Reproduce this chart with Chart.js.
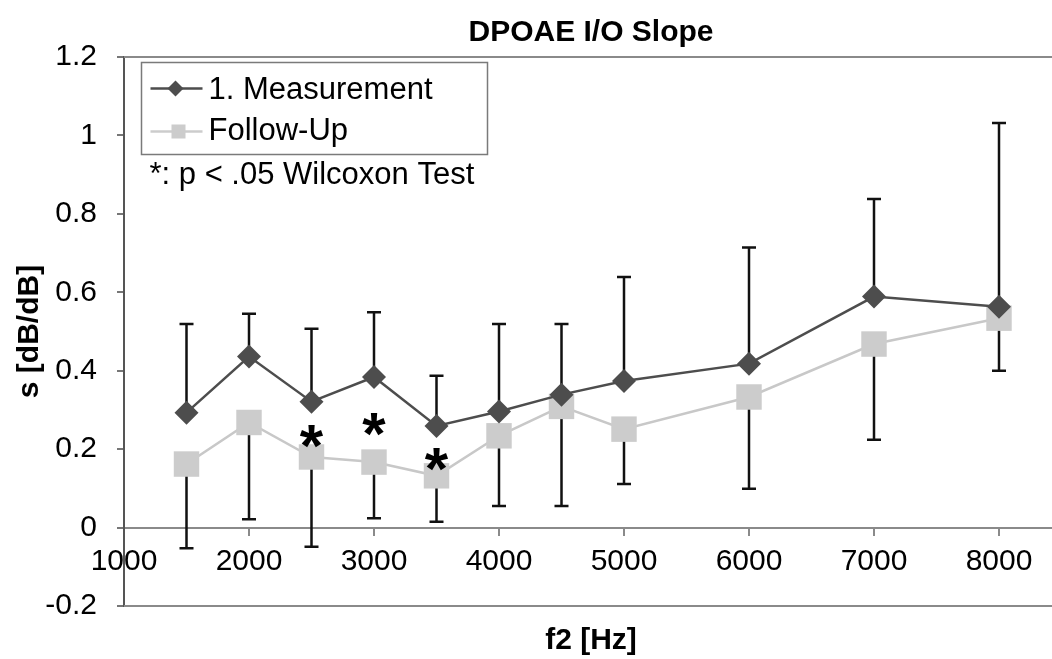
<!DOCTYPE html>
<html>
<head>
<meta charset="utf-8">
<title>DPOAE I/O Slope</title>
<script src="https://cdn.jsdelivr.net/npm/chart.js@4.4.1/dist/chart.umd.min.js"></script>
<style>
  html, body { margin: 0; padding: 0; background: #fff; overflow: hidden; }
  canvas { display: block; }
</style>
</head>
<body>
<canvas id="slope" width="1052" height="659"></canvas>
<script>
// f2 frequencies (Hz)
const freqs = [1500, 2000, 2500, 3000, 3500, 4000, 4500, 5000, 6000, 7000, 8000];

// mean slope s [dB/dB]
const measurement = [0.293, 0.436, 0.321, 0.384, 0.259, 0.296, 0.339, 0.374, 0.418, 0.589, 0.563];
const followUp    = [0.162, 0.268, 0.180, 0.167, 0.132, 0.234, 0.309, 0.251, 0.333, 0.468, 0.534];

// SD : drawn upwards for the 1. measurement, downwards for the follow-up
const measurementSD = [0.226, 0.109, 0.186, 0.165, 0.128, 0.223, 0.180, 0.265, 0.296, 0.249, 0.469];
const followUpSD    = [0.215, 0.247, 0.229, 0.143, 0.117, 0.179, 0.254, 0.140, 0.234, 0.244, 0.134];

// p < .05 (Wilcoxon), star height
const sigFreqs  = [2500, 3000, 3500];
const sigLevels = [0.232, 0.262, 0.173];

// ticks
const xTicks = [1000, 2000, 3000, 4000, 5000, 6000, 7000, 8000];
const yTicks = [-0.2, 0, 0.2, 0.4, 0.6, 0.8, 1, 1.2];

const FONT = "'Liberation Sans', Arial, sans-serif";
Chart.defaults.font.family = FONT;
Chart.defaults.color = '#000';

const DARK = '#4d4d4d';
const LIGHT = '#cccccc';

// no extra label padding, the plot area is set by layout.padding + axis width
function noPad(scale) {
    scale.paddingLeft = 0;
    scale.paddingRight = 0;
    scale.paddingTop = 0;
    scale.paddingBottom = 0;
}

const decor = {
    id: 'decor',
    beforeDraw(chart) {
        const ctx = chart.ctx;
        ctx.save();
        ctx.fillStyle = '#fff';
        ctx.fillRect(0, 0, chart.width, chart.height);
        ctx.restore();
    },
    beforeDatasetsDraw(chart) {
        const { ctx, chartArea: a, scales: { x, y } } = chart;
        ctx.save();
        // frame top / bottom
        ctx.strokeStyle = '#8a8a8a';
        ctx.lineWidth = 2;
        ctx.beginPath();
        ctx.moveTo(a.left, a.top); ctx.lineTo(a.right, a.top);
        ctx.moveTo(a.left, a.bottom); ctx.lineTo(a.right, a.bottom);
        ctx.stroke();

        // error bars
        ctx.strokeStyle = '#111';
        ctx.lineWidth = 2.5;
        const bar = (px, y0, y1) => {
            ctx.beginPath();
            ctx.moveTo(px, y0); ctx.lineTo(px, y1);
            ctx.moveTo(px - 7, y1); ctx.lineTo(px + 7, y1);
            ctx.stroke();
        };
        freqs.forEach((f, i) => {
            const px = x.getPixelForValue(f);
            bar(px, y.getPixelForValue(measurement[i]), y.getPixelForValue(measurement[i] + measurementSD[i]));
            bar(px, y.getPixelForValue(followUp[i]), y.getPixelForValue(followUp[i] - followUpSD[i]));
        });
        ctx.restore();
    },
    afterDatasetsDraw(chart) {
        const { ctx, scales: { x, y } } = chart;
        ctx.save();
        ctx.fillStyle = '#000';
        ctx.font = 'bold 60px ' + FONT;
        ctx.textAlign = 'center';
        ctx.textBaseline = 'alphabetic';
        const m = ctx.measureText('*');
        sigFreqs.forEach((f, i) => {
            const cy = y.getPixelForValue(sigLevels[i]);
            ctx.fillText('*', x.getPixelForValue(f), cy + (m.actualBoundingBoxAscent - m.actualBoundingBoxDescent) / 2);
        });
        ctx.restore();
    },
    afterDraw(chart) {
        const { ctx, chartArea: a } = chart;
        const cx = (a.left + a.right) / 2 + 3;
        ctx.save();
        ctx.fillStyle = '#000';

        // titles
        ctx.font = 'bold 30px ' + FONT;
        ctx.textAlign = 'center';
        ctx.textBaseline = 'alphabetic';
        ctx.fillText('DPOAE I/O Slope', cx, 41);
        ctx.fillText('f2 [Hz]', cx, 649);

        // legend box
        const L = a.left + 17.5, T = a.top + 5.5;
        ctx.strokeStyle = '#7a7a7a';
        ctx.lineWidth = 1.5;
        ctx.strokeRect(L, T, 346, 92);

        // 1. Measurement
        ctx.lineWidth = 2.5;
        ctx.strokeStyle = DARK;
        ctx.beginPath(); ctx.moveTo(L + 9, T + 26); ctx.lineTo(L + 61, T + 26); ctx.stroke();
        ctx.fillStyle = DARK;
        ctx.beginPath();
        ctx.moveTo(L + 34, T + 18); ctx.lineTo(L + 42, T + 26);
        ctx.lineTo(L + 34, T + 34); ctx.lineTo(L + 26, T + 26);
        ctx.closePath(); ctx.fill();

        // Follow-Up
        ctx.strokeStyle = LIGHT;
        ctx.beginPath(); ctx.moveTo(L + 9, T + 69); ctx.lineTo(L + 61, T + 69); ctx.stroke();
        ctx.fillStyle = LIGHT;
        ctx.fillRect(L + 30, T + 62, 14, 14);

        ctx.fillStyle = '#000';
        ctx.font = '31px ' + FONT;
        ctx.textAlign = 'left';
        ctx.textBaseline = 'middle';
        ctx.fillText('1. Measurement', L + 67, T + 28);
        ctx.fillText('Follow-Up', L + 67, T + 69);
        ctx.fillText('*: p < .05 Wilcoxon Test', L + 8, T + 113);
        ctx.restore();
    }
};

const ctx = document.getElementById('slope').getContext('2d');
const chart = new Chart(ctx, {
    type: 'line',
    data: {
        datasets: [{
            label: '1. Measurement',
            data: freqs.map((f, i) => ({ x: f, y: measurement[i] })),
            borderColor: DARK,
            borderWidth: 2.5,
            backgroundColor: DARK,
            pointStyle: 'rectRot',
            pointRadius: 12,
            pointBorderWidth: 0,
            pointBackgroundColor: DARK,
            tension: 0,
        }, {
            label: 'Follow-Up',
            data: freqs.map((f, i) => ({ x: f, y: followUp[i] })),
            borderColor: '#c8c8c8',
            borderWidth: 2.5,
            backgroundColor: LIGHT,
            pointStyle: 'rect',
            pointRadius: 18,
            pointBorderWidth: 0,
            pointBackgroundColor: LIGHT,
            tension: 0,
        }]
    },
    options: {
        responsive: false,
        animation: false,
        devicePixelRatio: 1,
        layout: {
            autoPadding: false,
            padding: { top: 57, left: 0, right: 0, bottom: 53 }
        },
        plugins: {
            legend: { display: false },
            title: { display: false },
            tooltip: { enabled: false },
        },
        scales: {
            x: {
                type: 'linear',
                position: { y: 0 },
                min: 1000,
                max: 8424,
                afterBuildTicks: (scale) => { scale.ticks = xTicks.map(v => ({ value: v })); },
                afterFit: (scale) => { noPad(scale); },
                ticks: {
                    font: { size: 30 },
                    color: '#000',
                    padding: 9,
                    maxRotation: 0,
                    autoSkip: false,
                    callback: (v) => String(v),
                },
                grid: {
                    drawOnChartArea: false,
                    drawTicks: true,
                    tickLength: 7,
                    color: '#8a8a8a',
                    lineWidth: 2,
                },
                border: { color: '#8a8a8a', width: 2 },
            },
            y: {
                min: -0.2,
                max: 1.2,
                afterBuildTicks: (scale) => { scale.ticks = yTicks.map(v => ({ value: v })); },
                afterFit: (scale) => { scale.width = 124; noPad(scale); },
                ticks: {
                    font: { size: 30 },
                    color: '#000',
                    padding: 20,
                    callback: (v) => String(+v.toFixed(1)),
                },
                grid: {
                    drawOnChartArea: false,
                    drawTicks: true,
                    tickLength: 7,
                    color: '#777',
                    lineWidth: 2,
                },
                border: { color: '#555', width: 2 },
                title: {
                    display: true,
                    text: 's [dB/dB]',
                    font: { size: 30, weight: 'bold' },
                    color: '#000',
                    padding: { top: 12, bottom: 0 },
                },
            }
        }
    },
    plugins: [decor]
});
</script>
</body>
</html>
